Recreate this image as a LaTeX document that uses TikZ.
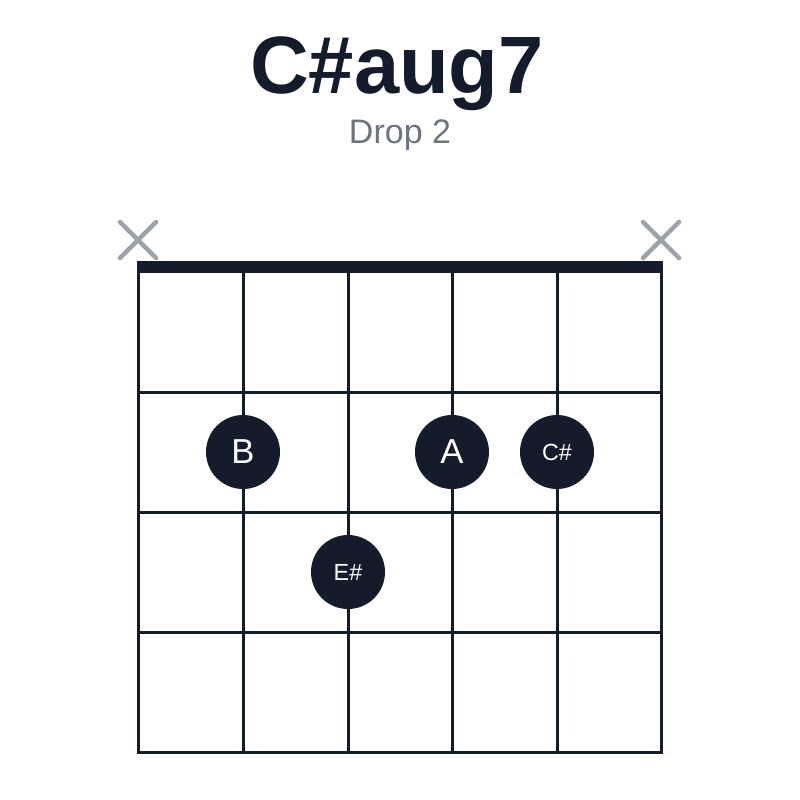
\documentclass[tikz,border=0pt]{standalone}
\usepackage{fontspec}
\setmainfont{Liberation Sans}
\definecolor{inkdark}{HTML}{141B2B}
\definecolor{mutegray}{HTML}{9EA2AA}
\definecolor{subgray}{HTML}{6E7380}
\tikzset{every picture/.style={line width=0.75pt}}
\tikzset{
  fretline/.style={draw=inkdark, line width=2.25pt},
  mutemark/.style={draw=mutegray, line width=3.4pt, line cap=round},
  fingerdot/.style={circle, fill=inkdark, minimum size=55.5pt, inner sep=0pt, text=white},
}

\begin{document}
\begin{tikzpicture}[x=0.75pt,y=0.75pt,yscale=-1,xscale=1]
\useasboundingbox (0,0) rectangle (800,800);

% Title
\draw (397,74) node [inner sep=0pt] (title) {\fontsize{61pt}{61pt}\selectfont\bfseries\color{inkdark}C\#aug7};
\draw (400,135) node [inner sep=0pt] (subtitle) {\fontsize{25.5pt}{25.5pt}\selectfont\color{subgray}Drop 2};

% Mute marks
\draw [mutemark] (120,222) -- (156,258) (156,222) -- (120,258) ;
\draw [mutemark] (643,222) -- (679,258) (679,222) -- (643,258) ;

% Strings
\draw [fretline] (138,267) -- (138,753.1) ;
\draw [fretline] (243,267) -- (243,752) ;
\draw [fretline] (348,267) -- (348,752) ;
\draw [fretline] (452,267) -- (452,752) ;
\draw [fretline] (557,267) -- (557,752) ;
\draw [fretline] (661,267) -- (661,753.1) ;

% Frets
\draw [fretline] (136.5,392) -- (662.5,392) ;
\draw [fretline] (136.5,512) -- (662.5,512) ;
\draw [fretline] (136.5,632) -- (662.5,632) ;
\draw [fretline] (136.5,752) -- (662.5,752) ;

% Nut
\draw [draw=inkdark, line width=9pt] (136.5,267) -- (662.5,267) ;

% Finger dots
\draw (243,452) node [fingerdot] (noteB) {\fontsize{26pt}{26pt}\selectfont B};
\draw (452,452) node [fingerdot] (noteA) {\fontsize{26pt}{26pt}\selectfont A};
\draw (557,452) node [fingerdot] (noteCs) {\fontsize{17.5pt}{17.5pt}\selectfont C\#};
\draw (348,572) node [fingerdot] (noteEs) {\fontsize{17.5pt}{17.5pt}\selectfont E\#};

\end{tikzpicture}
\end{document}
